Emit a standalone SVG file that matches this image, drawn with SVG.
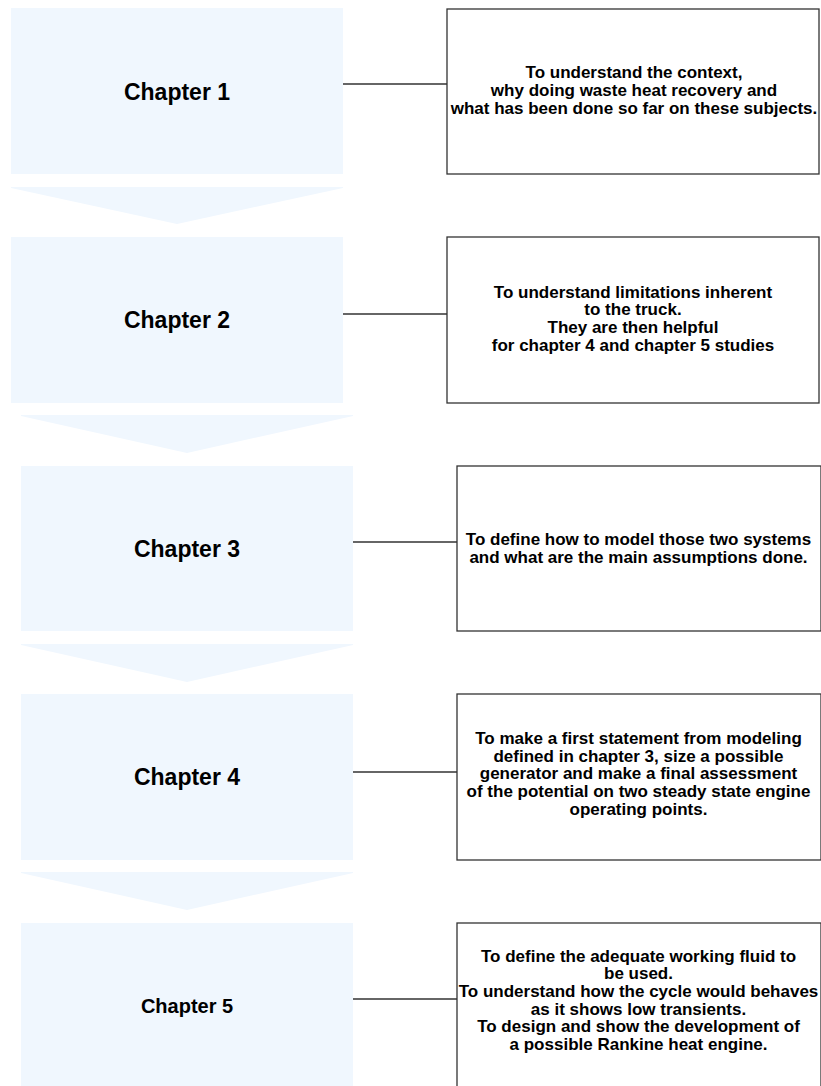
<svg xmlns="http://www.w3.org/2000/svg" width="821" height="1086" viewBox="0 0 821 1086">
<style>
.ch{fill:#F0F7FE;stroke:none}
.chev{fill:#F0F7FE;stroke:none}
.ct{font-family:"Liberation Sans",Arial,Helvetica,sans-serif;font-weight:bold;font-size:23px;fill:#000;text-anchor:middle}
.ds{fill:#FFFFFF;stroke:#333333;stroke-width:1.3}
.dt{font-family:"Liberation Sans",Arial,Helvetica,sans-serif;font-weight:bold;font-size:17px;fill:#000;text-anchor:middle}
.cn{stroke:#333333;stroke-width:1.3;fill:none}
</style>
<rect width="821" height="1086" fill="#FFFFFF"/>
<g id="arrows">
<polygon class="chev" points="11,187 343,187 343,188 177,224 11,188"/>
<polygon class="chev" points="21,415 353,415 353,416 187,453 21,416"/>
<polygon class="chev" points="21,644 353,644 353,645 187,682 21,645"/>
<polygon class="chev" points="21,872 353,872 353,873 187,910 21,873"/>
</g>
<g id="chapter1"><rect class="ch" x="11" y="8" width="332" height="166"/><text class="ct" x="177" y="99.5">Chapter 1</text></g>
<g id="chapter2"><rect class="ch" x="11" y="237" width="332" height="166"/><text class="ct" x="177" y="328">Chapter 2</text></g>
<g id="chapter3"><rect class="ch" x="21" y="466" width="332" height="165"/><text class="ct" x="187" y="556.5">Chapter 3</text></g>
<g id="chapter4"><rect class="ch" x="21" y="694" width="332" height="166"/><text class="ct" x="187" y="785">Chapter 4</text></g>
<g id="chapter5"><rect class="ch" x="21" y="923" width="332" height="170"/><text class="ct" x="187" y="1013" style="font-size:20px">Chapter 5</text></g>
<g id="connectors">
<line class="cn" x1="343" y1="84" x2="447" y2="84"/>
<line class="cn" x1="343" y1="314" x2="447" y2="314"/>
<line class="cn" x1="353" y1="542" x2="457" y2="542"/>
<line class="cn" x1="353" y1="772" x2="457" y2="772"/>
<line class="cn" x1="353" y1="999" x2="457" y2="999"/>
</g>
<g id="desc1"><rect class="ds" x="447" y="9" width="372" height="165"/>
<text class="dt"><tspan x="634" y="78.3">To understand the context,</tspan><tspan x="634" y="96.3">why doing waste heat recovery and</tspan><tspan x="634" y="114.3">what has been done so far on these subjects.</tspan></text></g>
<g id="desc2"><rect class="ds" x="447" y="237" width="372" height="166"/>
<text class="dt"><tspan x="633" y="297.5">To understand limitations inherent</tspan><tspan x="633" y="315.2">to the truck.</tspan><tspan x="633" y="332.9">They are then helpful</tspan><tspan x="633" y="350.6">for chapter 4 and chapter 5 studies</tspan></text></g>
<g id="desc3"><rect class="ds" x="457" y="466" width="364" height="165"/>
<text class="dt"><tspan x="638.5" y="545">To define how to model those two systems</tspan><tspan x="638.5" y="562.7">and what are the main assumptions done.</tspan></text></g>
<g id="desc4"><rect class="ds" x="457" y="694" width="364" height="166"/>
<text class="dt"><tspan x="638.5" y="744">To make a first statement from modeling</tspan><tspan x="638.5" y="761.7">defined in chapter 3, size a possible</tspan><tspan x="638.5" y="779.4">generator and make a final assessment</tspan><tspan x="638.5" y="797.1">of the potential on two steady state engine</tspan><tspan x="638.5" y="814.8">operating points.</tspan></text></g>
<g id="desc5"><rect class="ds" x="457" y="923" width="364" height="175"/>
<text class="dt"><tspan x="638.5" y="961.5">To define the adequate working fluid to</tspan><tspan x="638.5" y="979.2">be used.</tspan><tspan x="638.5" y="996.9">To understand how the cycle would behaves</tspan><tspan x="638.5" y="1014.6">as it shows low transients.</tspan><tspan x="638.5" y="1032.3">To design and show the development of</tspan><tspan x="638.5" y="1050">a possible Rankine heat engine.</tspan></text></g>
</svg>
